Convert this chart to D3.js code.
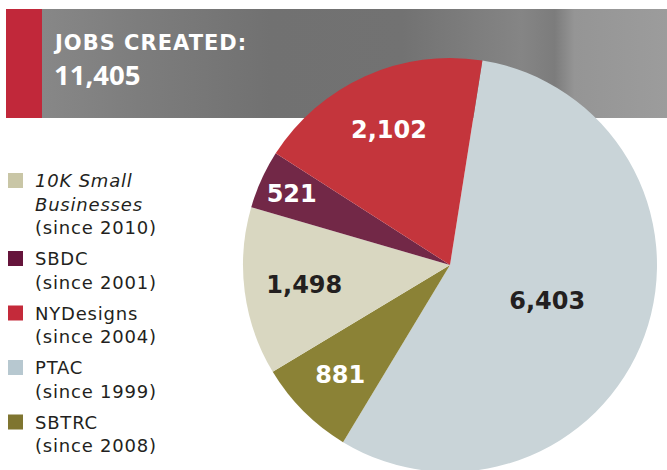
<!DOCTYPE html>
<html><head><meta charset="utf-8">
<script src="https://cdn.jsdelivr.net/npm/d3@7"></script>
<style>html,body{margin:0;padding:0;background:#fff;}svg{display:block;}</style>
</head><body>
<svg id="c" width="667" height="470"></svg>
<script>
const categories = ["PTAC", "SBTRC", "10K Small Businesses", "SBDC", "NYDesigns"];
const values = [6403, 881, 1498, 521, 2102];
const valueLabels = ["6,403", "881", "1,498", "521", "2,102"];
const sliceColors = ["#c9d4d8", "#8b8236", "#d9d7c1", "#722847", "#c4353c"];
const labelColors = ["#231f20", "#ffffff", "#231f20", "#ffffff", "#ffffff"];

const legendNames = [["10K Small", "Businesses"], ["SBDC"], ["NYDesigns"], ["PTAC"], ["SBTRC"]];
const legendSince = ["(since 2010)", "(since 2001)", "(since 2004)", "(since 1999)", "(since 2008)"];
const legendColors = ["#c9c6a6", "#65143b", "#c42a3a", "#b7c8d0", "#7f7530"];
const legendItalic = [true, false, false, false, false];

const titleText = "JOBS CREATED:";
const totalText = "11,405";

const svg = d3.select("#c");
const dv = "'DejaVu Sans', sans-serif";
const os = "'Open Sans', 'DejaVu Sans', sans-serif";

// header band
const defs = svg.append("defs");
const g1 = defs.append("linearGradient").attr("id", "hdr").attr("x1", "0").attr("x2", "1").attr("y1", "0").attr("y2", "0");
[[0, "#8b8b8b"], [0.2, "#7d7d7d"], [0.4, "#717171"], [0.6, "#727272"], [0.78, "#858585"], [0.83, "#7c7c7c"], [0.86, "#959595"], [1, "#9c9c9c"]]
  .forEach(([o, c]) => g1.append("stop").attr("offset", o).attr("stop-color", c));
svg.append("rect").attr("x", 6).attr("y", 9).attr("width", 661).attr("height", 109).attr("fill", "url(#hdr)");
svg.append("rect").attr("x", 6).attr("y", 9).attr("width", 36).attr("height", 109).attr("fill", "#c1283a");
svg.append("text").attr("x", 55).attr("y", 49.5).text(titleText)
  .attr("fill", "#fff").attr("font-family", dv).attr("font-weight", 700).attr("font-size", 21)
  .attr("letter-spacing", 1);
svg.append("text").attr("x", 54).attr("y", 84.5).text(totalText)
  .attr("fill", "#fff").attr("font-family", os).attr("font-weight", 700).attr("font-size", 27.5);

// pie
const cx = 450, cy = 265, R = 207;
const startDeg = 9;
const pie = d3.pie().sort(null).value(d => d)
  .startAngle(startDeg * Math.PI / 180).endAngle((startDeg + 360) * Math.PI / 180);
const arcs = pie(values);
const arc = d3.arc().innerRadius(0).outerRadius(R);
const pg = svg.append("g").attr("transform", `translate(${cx},${cy})`);
pg.selectAll("path").data(arcs).join("path").attr("d", arc).attr("fill", (d, i) => sliceColors[i]);

const labelFrac = [0.5, 0.75, 0.71, 0.84, 0.72];
pg.selectAll("text.v").data(arcs).join("text").attr("class", "v")
  .attr("transform", (d, i) => {
    const r = R * labelFrac[i];
    const c = d3.arc().innerRadius(r).outerRadius(r).centroid(d);
    return `translate(${c[0]},${c[1]})`;
  })
  .attr("text-anchor", "middle").attr("dy", "0.36em")
  .attr("fill", (d, i) => labelColors[i])
  .attr("font-family", dv).attr("font-weight", 700).attr("font-size", 24)
  .text((d, i) => valueLabels[i]);

// legend
const lh = 23.5, gap = 31;
let y = 187;
const lg = svg.append("g");
legendNames.forEach((names, i) => {
  lg.append("rect").attr("x", 8).attr("y", y - 14).attr("width", 15).attr("height", 15).attr("fill", legendColors[i]);
  const lines = names.concat([legendSince[i]]);
  lines.forEach((t, j) => {
    lg.append("text").attr("x", 35).attr("y", y + j * lh).text(t)
      .attr("fill", "#231f20").attr("font-family", dv).attr("font-size", 18)
      .attr("letter-spacing", 0.8)
      .attr("font-style", legendItalic[i] && j < names.length ? "italic" : "normal");
  });
  y += (lines.length - 1) * lh + gap;
});
</script>
</body></html>
